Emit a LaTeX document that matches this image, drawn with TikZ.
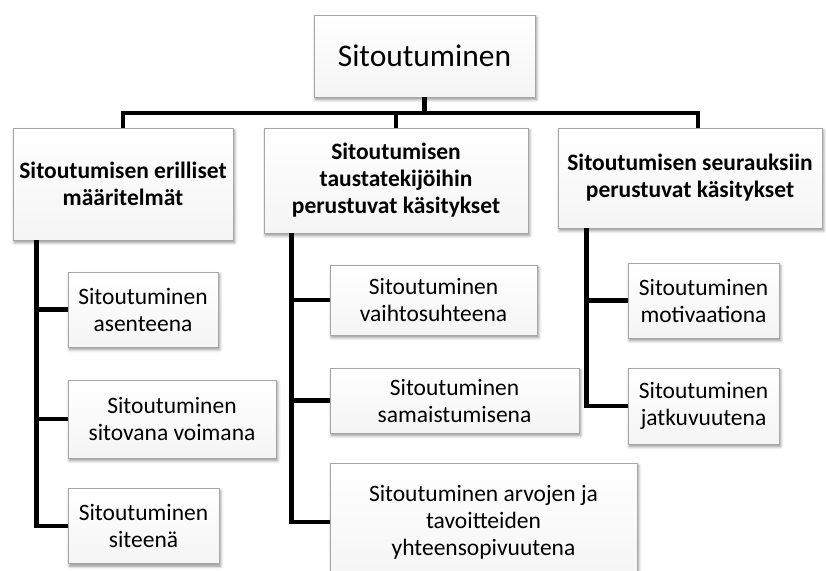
\documentclass[tikz,border=0pt]{standalone}
\usepackage{fontspec}
\setmainfont{Carlito}
\usetikzlibrary{shadows.blur,positioning}

\begin{document}
\begin{tikzpicture}[x=1pt, y=-1pt,
    box/.style={draw=black!35, line width=0.8pt, top color=white, bottom color=black!4, blur shadow={shadow xshift=1.5pt, shadow yshift=-2.5pt, shadow blur radius=3pt, shadow opacity=45}, align=center, inner xsep=2pt, font=\fontsize{23.5}{27}\selectfont},
    head/.style={box, font=\fontsize{23.5}{27}\selectfont\bfseries},
    link/.style={line width=4.5pt}]
    \useasboundingbox (0,0) rectangle (826,570);

    \coordinate (bar) at (424.5,113);
    \node [box, minimum width=221, minimum height=82, font=\fontsize{31.5}{36}\selectfont] (top) at (424.5,56) {Sitoutuminen};
    \node [head, minimum width=220, minimum height=112] (erill) at (123,184) {Sitoutumisen erilliset\\määritelmät};
    \node [head, minimum width=264, minimum height=105] (tausta) at (396,180.5) {Sitoutumisen\\taustatekijöihin\\perustuvat käsitykset};
    \node [head, minimum width=264, minimum height=100] (seur) at (690,178) {Sitoutumisen seurauksiin\\perustuvat käsitykset};

    \node [box, minimum width=150, minimum height=75] (asent) at (143,309.5) {Sitoutuminen\\asenteena};
    \node [box, minimum width=208, minimum height=78] (voima) at (172,419) {Sitoutuminen\\sitovana voimana};
    \node [box, minimum width=151, minimum height=75] (siteena) at (143.5,526) {Sitoutuminen\\siteenä};

    \node [box, minimum width=207, minimum height=70] (vaihto) at (433.5,300) {Sitoutuminen\\vaihtosuhteena};
    \node [box, minimum width=249, minimum height=65] (samais) at (454.5,400.5) {Sitoutuminen\\samaistumisena};
    \node [box, minimum width=307, minimum height=118] (arvot) at (483.5,522) {Sitoutuminen arvojen ja\\tavoitteiden\\yhteensopivuutena};

    \node [box, minimum width=151, minimum height=75] (motiv) at (703.5,300.5) {Sitoutuminen\\motivaationa};
    \node [box, minimum width=151, minimum height=76] (jatku) at (703.5,406) {Sitoutuminen\\jatkuvuutena};

    % top level
    \draw [link] (top.south) -- (bar);
    \draw [link] (erill.north) -- (erill.north |- bar) -- ([xshift=8pt]seur.north |- bar) -- ([xshift=8pt]seur.north);
    \draw [link] (tausta.north) -- (tausta.north |- bar);

    % branches
    \draw [link] ([xshift=24pt]erill.south west) |- (siteena.west);
    \draw [link] ([xshift=24pt]erill.south west) |- (asent.west);
    \draw [link] ([xshift=24pt]erill.south west) |- (voima.west);

    \draw [link] ([xshift=28pt]tausta.south west) |- (arvot.west);
    \draw [link] ([xshift=28pt]tausta.south west) |- (vaihto.west);
    \draw [link] ([xshift=28pt]tausta.south west) |- (samais.west);

    \draw [link] ([xshift=29pt]seur.south west) |- (jatku.west);
    \draw [link] ([xshift=29pt]seur.south west) |- (motiv.west);
\end{tikzpicture}
\end{document}
